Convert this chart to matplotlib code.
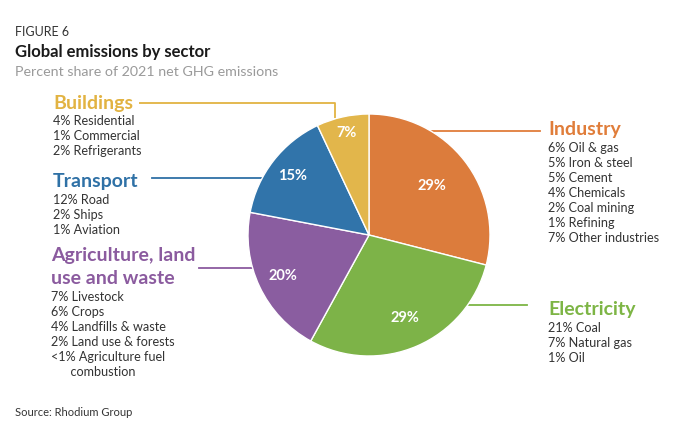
import numpy as np
import matplotlib
matplotlib.use("Agg")
import matplotlib.pyplot as plt

# ---------------------------------------------------------------------------
# Data
# ---------------------------------------------------------------------------
sectors = ["Industry", "Electricity", "Agriculture, land\nuse and waste", "Transport", "Buildings"]
shares = [29, 29, 20, 15, 7]
colors = ["#DC7C3C", "#7DB348", "#8A5DA0", "#3174AA", "#E2B64B"]
text_colors = ["#E07D3A", "#7DB545", "#8B5B9F", "#2F71A6", "#E2B342"]

details = [
    ["6% Oil & gas", "5% Iron & steel", "5% Cement", "4% Chemicals",
     "2% Coal mining", "1% Refining", "7% Other industries"],
    ["21% Coal", "7% Natural gas", "1% Oil"],
    ["7% Livestock", "6% Crops", "4% Landfills & waste", "2% Land use & forests",
     "<1% Agriculture fuel", "      combustion"],
    ["12% Road", "2% Ships", "1% Aviation"],
    ["4% Residential", "1% Commercial", "2% Refrigerants"],
]

# ---------------------------------------------------------------------------
# Layout (pixels, figure is 680 x 442)
# ---------------------------------------------------------------------------
W, H = 680, 442
CX, CY, R = 369, 235, 121
FONT = ["Lato", "DejaVu Sans"]
plt.rcParams["font.family"] = FONT

# heading anchor (x, y of heading centre) and leader line y / x-start
heading_pos = [(548, 130), (548, 310), (51, 256), (53, 182), (53, 103)]
leader = [(131, 540), (305, 527), (268, 199), (178, 152), (103, 139)]
pct_dist = [0.66, 0.75, 0.79, 0.80, 0.86]

fig = plt.figure(figsize=(W / 100, H / 100), dpi=100)
fig.patch.set_facecolor("white")

ax = fig.add_axes([(CX - R) / W, (H - CY - R) / H, 2 * R / W, 2 * R / H])
wedges, _ = ax.pie(
    shares, colors=colors, startangle=90, counterclock=False, radius=1,
    wedgeprops=dict(edgecolor="white", linewidth=1.0),
)
ax.set_xlim(-1, 1)
ax.set_ylim(-1, 1)
ax.set_aspect("equal")
ax.axis("off")

for w, val, d in zip(wedges, shares, pct_dist):
    ang = np.deg2rad((w.theta1 + w.theta2) / 2)
    ax.text(d * np.cos(ang), d * np.sin(ang), f"{val}%", ha="center", va="center",
            color="white", fontsize=10.5, fontweight="bold")

# overlay in pixel coordinates
ov = fig.add_axes([0, 0, 1, 1], zorder=-1)
ov.set_xlim(0, W)
ov.set_ylim(H, 0)
ov.axis("off")


def edge_x(y, side):
    dy = y - CY
    return CX + side * np.sqrt(max(R * R - dy * dy, 0))


for i, (name, col, tcol) in enumerate(zip(sectors, colors, text_colors)):
    hx, hy = heading_pos[i]
    ly, lx = leader[i]
    right = hx > CX
    if name == "Buildings":
        ov.plot([lx, 335, 335], [ly, ly, 118], color=tcol, lw=1.3, solid_capstyle="butt")
    elif right:
        ov.plot([edge_x(ly, 1) + 1, lx], [ly, ly], color=tcol, lw=1.3)
    else:
        ov.plot([lx, edge_x(ly, -1) + 2], [ly, ly], color=tcol, lw=1.3)

    lines = name.split("\n")
    for k, ln in enumerate(lines):
        ov.text(hx, hy + k * 23, ln, ha="left", va="center", color=tcol,
                fontsize=14, fontweight="bold")
    y0 = hy + (len(lines) - 1) * 23 + 18
    for k, ln in enumerate(details[i]):
        ov.text(hx, y0 + k * 15, ln, ha="left", va="center", color="#333333", fontsize=9.1)

ov.text(15, 32, "FIGURE 6", ha="left", va="center", color="#333333", fontsize=9)
ov.text(15, 52, "Global emissions by sector", ha="left", va="center", color="#1a1a1a",
        fontsize=12, fontweight="bold")
ov.text(15, 72, "Percent share of 2021 net GHG emissions", ha="left", va="center",
        color="#9a9a9a", fontsize=10.3)
ov.text(15, 413, "Source: Rhodium Group", ha="left", va="center", color="#333333", fontsize=8)

fig.savefig("out.png", dpi=100)
